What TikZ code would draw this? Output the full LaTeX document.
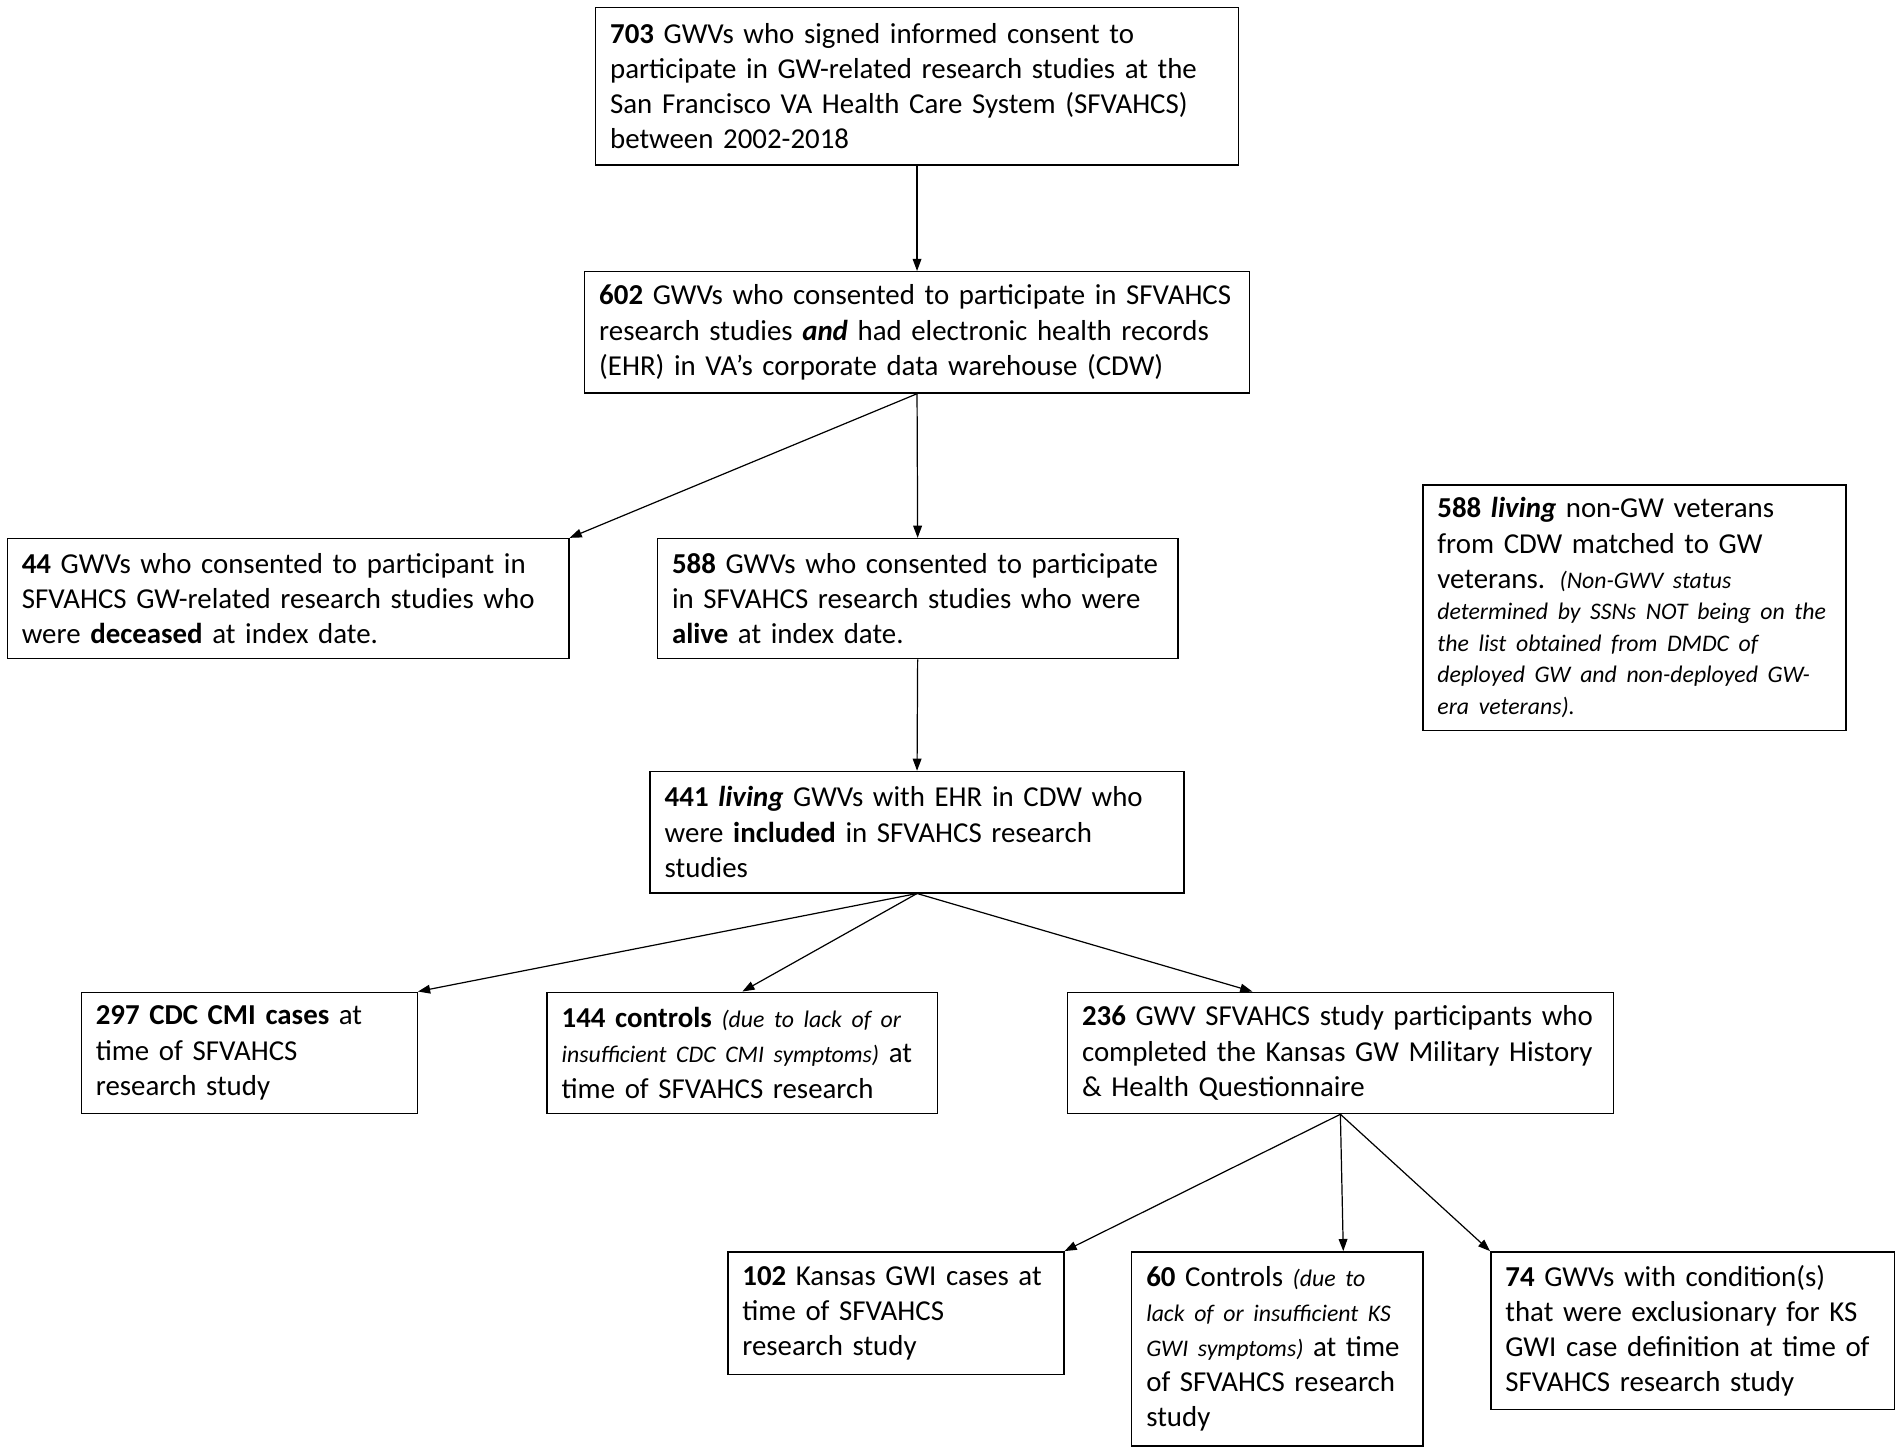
\documentclass[tikz,border=0pt]{standalone}
\usepackage{fontspec}
\setmainfont{Carlito}
\usetikzlibrary{arrows.meta}
\newcommand\smit[1]{{\fontsize{9.8}{13}\selectfont\itshape #1}}
\begin{document}
\begin{tikzpicture}[x=0.5pt,y=-0.5pt,
  font=\fontsize{11.9}{14.5}\selectfont,
  box/.style n args={3}{draw, line width=0.6pt, align=left, inner xsep=6pt, inner ysep=0pt,
    minimum width=#1, minimum height=#2, text width=#3},
  arr/.style={draw, line width=0.5pt, -{Triangle[length=5pt,width=3.6pt]}}]
\useasboundingbox (0,0) rectangle (1568,1198);
\node[box={265pt}{65pt}{253pt}] (b1) at (756,71) {\textbf{703} GWVs who signed informed consent to\\ participate in GW-related research studies at the\\ San Francisco VA Health Care System (SFVAHCS)\\ between 2002-2018};
\node[box={274pt}{50pt}{262pt}] (b2) at (756,274) {\textbf{602} GWVs who consented to participate in SFVAHCS\\ research studies \textbf{\textit{and}} had electronic health records\\ (EHR) in VA’s corporate data warehouse (CDW)};
\node[box={231.5pt}{49.5pt}{219.5pt}] (b3) at (237.5,493.5) {\textbf{44} GWVs who consented to participant in\\ SFVAHCS GW-related research studies who\\ were \textbf{deceased} at index date.};
\node[box={214.5pt}{49.5pt}{202.5pt}] (b4) at (756.5,493.5) {\textbf{588} GWVs who consented to participate\\ in SFVAHCS research studies who were\\ \textbf{alive} at index date.};
\node[box={174.5pt}{101pt}{162.5pt}] (b5) at (1347.5,501) {\textbf{588 \textit{living}} non-GW veterans\\ from CDW matched to GW\\ veterans. \smit{(Non-GWV status}\par
{\fontsize{9.8}{13}\selectfont\itshape \mbox{determined by SSNs NOT being on the}\\ the list obtained from DMDC of\\ \mbox{deployed GW and non-deployed GW-}\\ era veterans).\par}};
\node[box={220pt}{50pt}{208pt}] (b6) at (756,686) {\textbf{441 \textit{living}} GWVs with EHR in CDW who\\ were \textbf{included} in SFVAHCS research\\ studies};
\node[box={138.5pt}{50pt}{126.5pt}] (b7) at (205.5,868) {\textbf{297 CDC CMI cases} at\\ time of SFVAHCS\\ research study};
\node[box={161pt}{50pt}{149pt}] (b8) at (612,868) {\mbox{\textbf{144 controls} \smit{(due to lack of or}}\\ \mbox{\smit{insufficient CDC CMI symptoms)} at}\\ time of SFVAHCS research};
\node[box={225pt}{50pt}{213pt}] (b9) at (1105,868) {\textbf{236} GWV SFVAHCS study participants who\\ completed the Kansas GW Military History\\ \& Health Questionnaire};
\node[box={138.5pt}{50.5pt}{126.5pt}] (b10) at (738.5,1082.5) {\textbf{102} Kansas GWI cases at\\ time of SFVAHCS\\ research study};
\node[box={120pt}{80pt}{108pt}] (b11) at (1053,1112) {\mbox{\textbf{60} Controls \smit{(due to}}\\ \mbox{\smit{lack of or insufficient KS}}\\ \mbox{\smit{GWI symptoms)} at time}\\ \mbox{of SFVAHCS research}\\ study};
\node[box={166.5pt}{65pt}{154.5pt}] (b12) at (1395.5,1097) {\textbf{74} GWVs with condition(s)\\ that were exclusionary for KS\\ GWI case definition at time of\\ SFVAHCS research study};
\draw[arr] (b1.south) -- (b2.north);
\draw[arr] (b2.south) -- (b3.north east);
\draw[arr] (b2.south) -- (b4.north);
\draw[arr] (b4.south) -- (b6.north);
\draw[arr] (b6.south) -- (b7.north east);
\draw[arr] (b6.south) -- (b8.north);
\draw[arr] (b6.south) -- ([xshift=76.5pt]b9.north west);
\draw[arr] (b9.south) -- (b10.north east);
\draw[arr] (b9.south) -- ([xshift=87.5pt]b11.north west);
\draw[arr] (b9.south) -- (b12.north west);
\end{tikzpicture}
\end{document}
